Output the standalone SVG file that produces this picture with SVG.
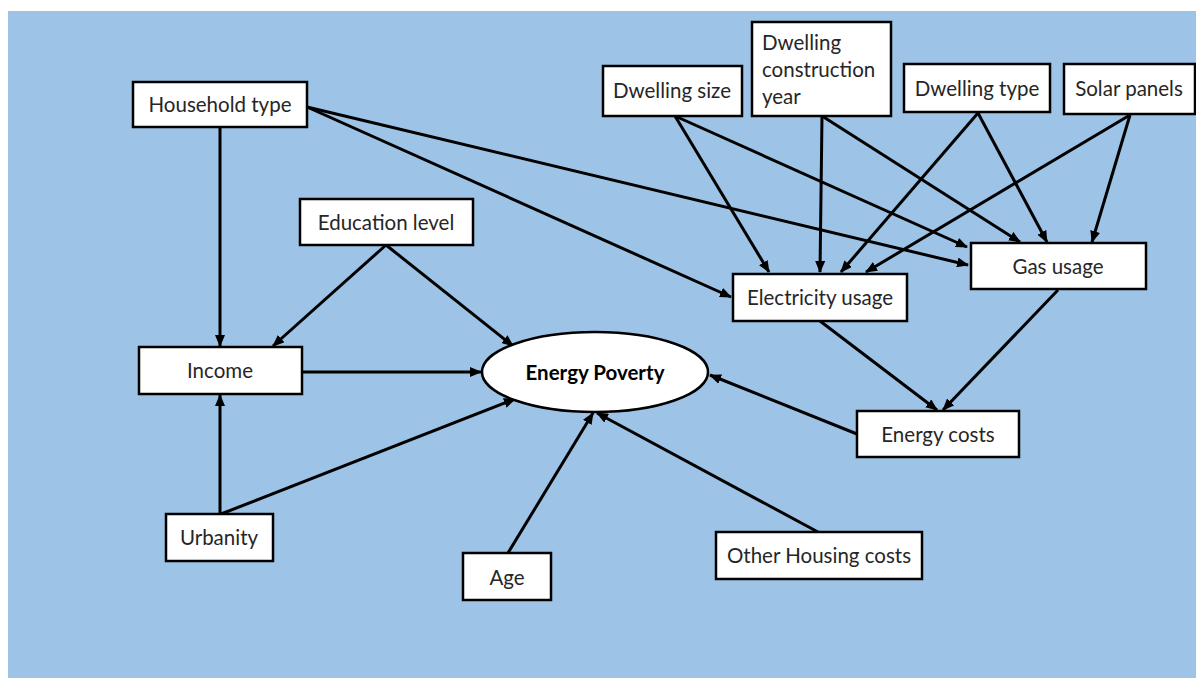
<svg xmlns="http://www.w3.org/2000/svg" width="1196" height="678" viewBox="0 0 1196 678">
<style>
.box{fill:#fff;stroke:#000;stroke-width:2.5}
.t{font-family:Lato,"Liberation Sans",sans-serif;font-size:20.5px;fill:#262626;text-anchor:middle}
.tl{font-family:Lato,"Liberation Sans",sans-serif;font-size:20.5px;fill:#262626}
.b{font-weight:bold;fill:#000}
.e{stroke:#000;stroke-width:3;fill:none;marker-end:url(#ah)}
</style>
<defs>
<marker id="ah" markerUnits="userSpaceOnUse" markerWidth="12" markerHeight="10" refX="11" refY="5" orient="auto">
<path d="M0,0 L12,5 L0,10 z" fill="#000"/>
</marker>
</defs>
<rect x="0" y="0" width="1196" height="678" fill="#fff"/>
<rect x="8" y="11" width="1188" height="667" fill="#9dc3e6"/>
<g id="connectors">
<line class="e" x1="220" y1="127" x2="220" y2="346"/>
<line class="e" x1="307" y1="107" x2="731" y2="297"/>
<line class="e" x1="307" y1="107" x2="968" y2="265"/>
<line class="e" x1="386" y1="245" x2="273" y2="346"/>
<line class="e" x1="386" y1="245" x2="513" y2="346"/>
<line class="e" x1="302" y1="372" x2="481" y2="372"/>
<line class="e" x1="220" y1="514" x2="220" y2="395"/>
<line class="e" x1="221" y1="514" x2="515" y2="399"/>
<line class="e" x1="508" y1="553" x2="593" y2="413"/>
<line class="e" x1="818" y1="532" x2="597" y2="413"/>
<line class="e" x1="857" y1="434" x2="710" y2="375"/>
<line class="e" x1="820" y1="321" x2="937" y2="410"/>
<line class="e" x1="1058" y1="290" x2="943" y2="410"/>
<line class="e" x1="675" y1="116" x2="769" y2="272"/>
<line class="e" x1="675" y1="116" x2="967" y2="247"/>
<line class="e" x1="822" y1="116" x2="820" y2="272"/>
<line class="e" x1="822" y1="116" x2="1020" y2="242"/>
<line class="e" x1="978" y1="113" x2="841" y2="272"/>
<line class="e" x1="978" y1="113" x2="1047" y2="242"/>
<line class="e" x1="1130" y1="115" x2="866" y2="272"/>
<line class="e" x1="1130" y1="115" x2="1092" y2="242"/>
</g>
<g id="household-type"><rect class="box" x="133" y="82" width="174" height="45"/><text class="t" x="220" y="112">Household type</text></g>
<g id="dwelling-size"><rect class="box" x="603" y="66" width="139" height="50"/><text class="t" x="672" y="98">Dwelling size</text></g>
<g id="dwelling-construction-year"><rect class="box" x="752" y="22" width="139" height="94"/><text class="tl" x="762" y="50">Dwelling</text><text class="tl" x="762" y="77">construction</text><text class="tl" x="762" y="104">year</text></g>
<g id="dwelling-type"><rect class="box" x="904" y="64" width="146" height="48"/><text class="t" x="977" y="96">Dwelling type</text></g>
<g id="solar-panels"><rect class="box" x="1064" y="64" width="131" height="50"/><text class="t" x="1129" y="96">Solar panels</text></g>
<g id="education-level"><rect class="box" x="300" y="199" width="173" height="46"/><text class="t" x="386" y="230">Education level</text></g>
<g id="income"><rect class="box" x="139" y="347" width="163" height="47"/><text class="t" x="220" y="378">Income</text></g>
<g id="energy-poverty"><ellipse class="box" cx="595" cy="372" rx="113" ry="40"/><text class="t b" x="595" y="380">Energy Poverty</text></g>
<g id="electricity-usage"><rect class="box" x="733" y="274" width="174" height="47"/><text class="t" x="820" y="305">Electricity usage</text></g>
<g id="gas-usage"><rect class="box" x="971" y="243" width="175" height="46"/><text class="t" x="1058" y="274">Gas usage</text></g>
<g id="energy-costs"><rect class="box" x="857" y="411" width="162" height="46"/><text class="t" x="938" y="442">Energy costs</text></g>
<g id="urbanity"><rect class="box" x="166" y="514" width="107" height="47"/><text class="t" x="219" y="545">Urbanity</text></g>
<g id="age"><rect class="box" x="463" y="553" width="88" height="47"/><text class="t" x="507" y="585">Age</text></g>
<g id="other-housing-costs"><rect class="box" x="716" y="532" width="206" height="47"/><text class="t" x="819" y="563">Other Housing costs</text></g>
</svg>
